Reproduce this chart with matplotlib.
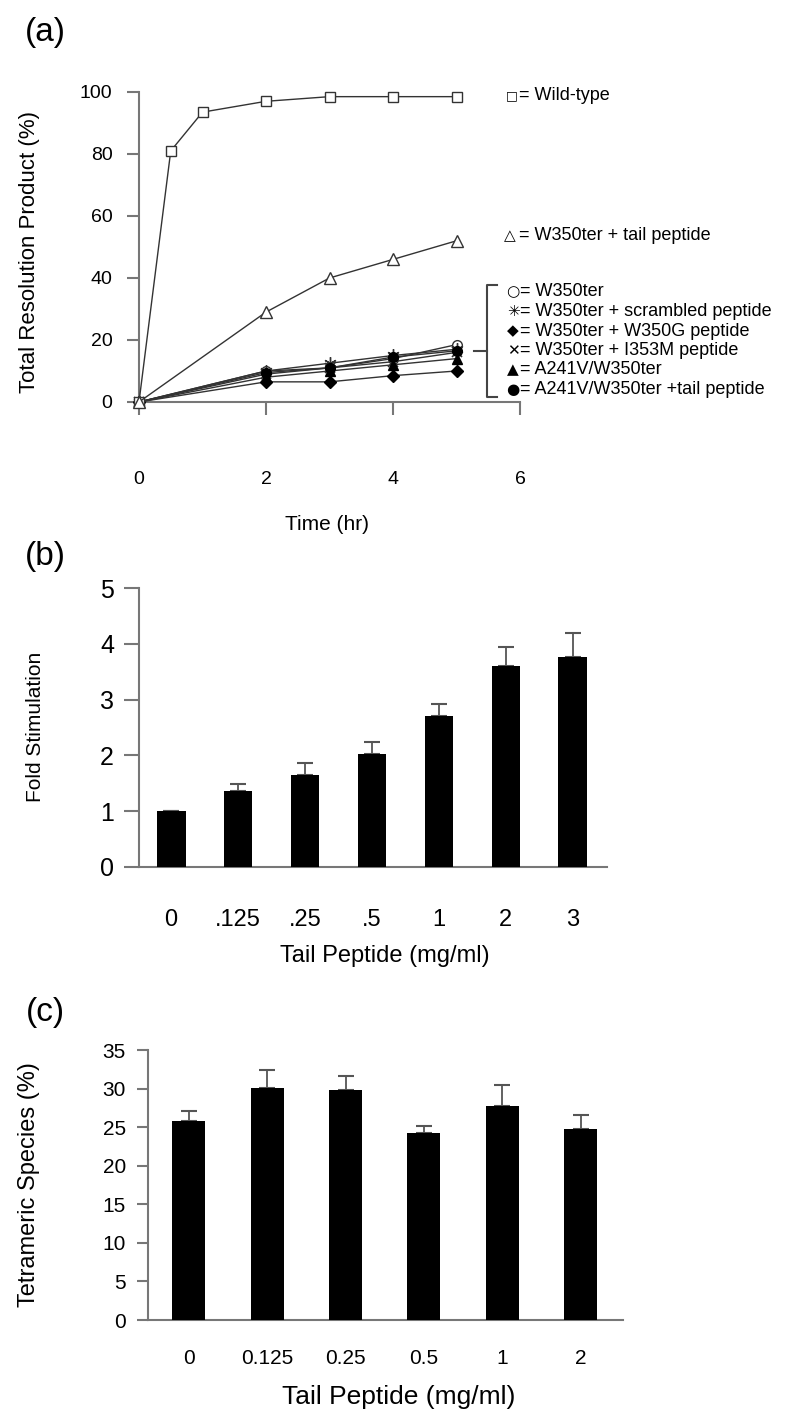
import matplotlib
matplotlib.use('Agg')
import matplotlib.pyplot as plt
from matplotlib.lines import Line2D

plt.rcParams['font.family'] = ['Liberation Sans', 'DejaVu Sans']

# ---- panel (a) data: time course ----
time_wt = [0, 0.5, 1, 2, 3, 4, 5]
wild_type = [0, 81, 93.5, 97, 98.5, 98.5, 98.5]
time = [0, 2, 3, 4, 5]
w350_tail = [0, 29, 40, 46, 52]
w350 = [0, 10, 11, 14, 18.5]
w350_scr = [0, 10, 12.5, 15, 17]
w350_w350g = [0, 6.5, 6.5, 8.5, 10]
w350_i353m = [0, 9, 11, 13, 16]
a241v = [0, 8, 10, 12, 14]
a241v_tail = [0, 9.5, 11, 14.5, 16.5]

# ---- panel (b) data: fold stimulation ----
b_labels = ['0', '.125', '.25', '.5', '1', '2', '3']
b_values = [1.0, 1.37, 1.65, 2.03, 2.71, 3.60, 3.77]
b_err = [0, 0.12, 0.22, 0.21, 0.22, 0.34, 0.42]

# ---- panel (c) data: tetrameric species ----
c_labels = ['0', '0.125', '0.25', '0.5', '1', '2']
c_values = [25.8, 30.1, 29.8, 24.3, 27.8, 24.8]
c_err = [1.3, 2.3, 1.8, 0.8, 2.7, 1.8]

W, H = 800, 1424
fig = plt.figure(figsize=(W / 100, H / 100), dpi=100)


def px_axes(l, t, r, b):
    return fig.add_axes([l / W, 1 - b / H, (r - l) / W, (b - t) / H])


def fx(x):
    return x / W


def fy(y):
    return 1 - y / H


def style(ax):
    for s in ['top', 'right']:
        ax.spines[s].set_visible(False)
    for s in ['left', 'bottom']:
        ax.spines[s].set_color('#777777')
        ax.spines[s].set_linewidth(1.5)
    ax.tick_params(colors='#777777', labelcolor='black', width=1.5)


# ================= (a) =================
ax = px_axes(139, 92, 520, 402)
style(ax)
lc = '#333333'
ax.plot(time_wt, wild_type, color=lc, lw=1, marker='s', ms=7.5, mfc='white', mec=lc, mew=1, clip_on=False, zorder=5)
ax.plot(time, w350_tail, color=lc, lw=1, marker='^', ms=9, mfc='white', mec=lc, mew=1, clip_on=False, zorder=5)
ax.plot(time, w350, color=lc, lw=1, marker='o', ms=7, mfc='white', mec=lc, mew=1, clip_on=False, zorder=4)
ax.plot(time, w350_scr, color=lc, lw=1, marker=(6, 2, 0), ms=9, mec=lc, mew=1, clip_on=False, zorder=4)
ax.plot(time, w350_w350g, color=lc, lw=1, marker='D', ms=6, mfc='black', mec='black', clip_on=False, zorder=4)
ax.plot(time, w350_i353m, color=lc, lw=1, marker='x', ms=7, mec=lc, mew=1.2, clip_on=False, zorder=4)
ax.plot(time, a241v, color=lc, lw=1, marker='^', ms=7, mfc='black', mec='black', clip_on=False, zorder=4)
ax.plot(time, a241v_tail, color=lc, lw=1, marker='o', ms=7, mfc='black', mec='black', clip_on=False, zorder=4)
ax.set_xlim(0, 6)
ax.set_ylim(0, 100)
ax.set_xticks([0, 2, 4, 6])
ax.set_yticks([0, 20, 40, 60, 80, 100])
ax.tick_params(axis='y', length=9, pad=10, labelsize=14)
ax.tick_params(axis='x', length=9, pad=41, labelsize=14)
ax.set_xlabel('Time (hr)', fontsize=15)
ax.xaxis.set_label_coords((327 - 139) / 381, -(515 - 402) / 310)
ax.set_ylabel('Total Resolution Product (%)', fontsize=16)
ax.yaxis.set_label_coords(-(139 - 40) / 381, (402 - 252) / 310)

# legend keys and labels
keys_top = [('□', 512, 96, '= Wild-type', 9), ('△', 510, 236, '= W350ter + tail peptide', 11)]
for k, x, y, t, fs in keys_top:
    fig.text(fx(x), fy(y), k, fontsize=fs, ha='center', va='center', family='DejaVu Sans')
    fig.text(fx(519), fy(y), t, fontsize=13, ha='left', va='center')

low_keys = ['○', '✳', '◆', '✕', '▲', '●']
low_text = ['= W350ter', '= W350ter + scrambled peptide', '= W350ter + W350G peptide',
            '= W350ter + I353M peptide', '= A241V/W350ter', '= A241V/W350ter +tail peptide']
rows = [292, 311.5, 331, 350.5, 370, 389]
for k, t, y in zip(low_keys, low_text, rows):
    fig.text(fx(513), fy(y), k, fontsize=11, ha='center', va='center', family='DejaVu Sans')
    fig.text(fx(520), fy(y), t, fontsize=13, ha='left', va='center')

# bracket
bk = '#444444'
fig.add_artist(Line2D([fx(497), fx(487), fx(487), fx(497)], [fy(285), fy(285), fy(397), fy(397)], color=bk, lw=1.5))
fig.add_artist(Line2D([fx(474), fx(487)], [fy(351), fy(351)], color=bk, lw=1.5))

fig.text(fx(45), fy(33), '(a)', fontsize=24, ha='center', va='center')

# ================= (b) =================
ax = px_axes(139, 588, 607, 867)
style(ax)
xb = list(range(len(b_values)))
ax.bar(xb, b_values, width=0.43, color='black', zorder=3)
ax.errorbar(xb, b_values, yerr=[[0] * len(b_err), b_err], fmt='none', ecolor='#555555',
            elinewidth=1.3, capsize=6, capthick=1.5, zorder=2)
ax.set_xlim(-0.48, 6.51)
ax.set_ylim(0, 5)
ax.set_yticks([0, 1, 2, 3, 4, 5])
ax.set_xticks(xb)
ax.set_xticklabels(b_labels)
ax.tick_params(axis='y', length=11, pad=7, labelsize=18)
ax.tick_params(axis='x', length=0, pad=30, labelsize=17)
ax.set_xlabel('Tail Peptide (mg/ml)', fontsize=17)
ax.xaxis.set_label_coords((385 - 139) / 468, -(945 - 867) / 279)
ax.set_ylabel('Fold Stimulation', fontsize=15)
ax.yaxis.set_label_coords(-(139 - 45) / 468, (867 - 727) / 279)

fig.text(fx(45), fy(557), '(b)', fontsize=24, ha='center', va='center')

# ================= (c) =================
ax = px_axes(148, 1050, 623, 1320)
style(ax)
xc = list(range(len(c_values)))
ax.bar(xc, c_values, width=0.42, color='black', zorder=3)
ax.errorbar(xc, c_values, yerr=[[0] * len(c_err), c_err], fmt='none', ecolor='#555555',
            elinewidth=1.3, capsize=6, capthick=1.5, zorder=2)
ax.set_xlim(-0.52, 5.54)
ax.set_ylim(0, 35)
ax.set_yticks(range(0, 36, 5))
ax.set_xticks(xc)
ax.set_xticklabels(c_labels)
ax.tick_params(axis='y', length=8, pad=8, labelsize=15)
ax.tick_params(axis='x', length=0, pad=21, labelsize=15)
ax.set_xlabel('Tail Peptide (mg/ml)', fontsize=19)
ax.xaxis.set_label_coords((399 - 148) / 475, -(1385 - 1320) / 270)
ax.set_ylabel('Tetrameric Species (%)', fontsize=17)
ax.yaxis.set_label_coords(-(148 - 40) / 475, (1320 - 1185) / 270)

fig.text(fx(45), fy(1013), '(c)', fontsize=24, ha='center', va='center')

fig.savefig('out.png', dpi=100)
